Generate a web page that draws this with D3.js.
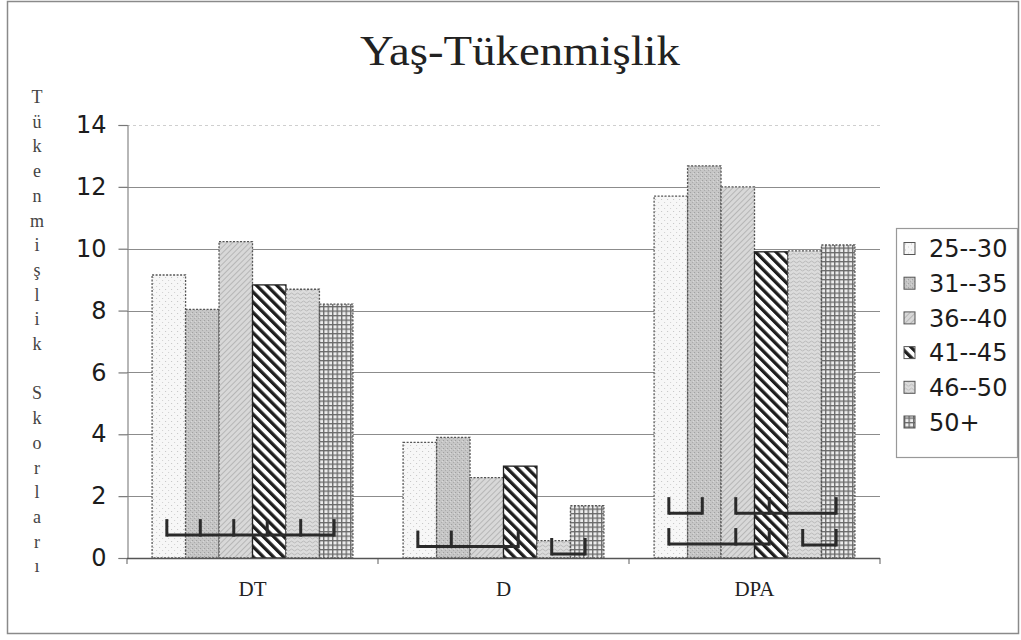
<!DOCTYPE html>
<html>
<head>
<meta charset="utf-8">
<script src="https://cdn.jsdelivr.net/npm/d3@7"></script>
<style>
  body { margin: 0; background: #fff; }
</style>
</head>
<body>
<script>
// values
var categories = ["DT", "D", "DPA"];
var ageGroups = ["25--30", "31--35", "36--40", "41--45", "46--50", "50+"];
var s25_30 = [9.15, 3.74, 11.70];
var s31_35 = [8.04, 3.90, 12.68];
var s36_40 = [10.23, 2.60, 12.00];
var s41_45 = [8.83, 2.97, 9.90];
var s46_50 = [8.69, 0.56, 9.93];
var s50p   = [8.21, 1.69, 10.12];
var yTicks = [0, 2, 4, 6, 8, 10, 12, 14];
// significance brackets: category, bar indexes, level (score units)
var bracketCats   = ["DT", "D", "D", "DPA", "DPA", "DPA", "DPA"];
var bracketBars   = [[0,1,2,3,4,5], [0,1,3], [4,5], [0,1], [2,3,5], [0,2,3], [4,5]];
var bracketLevels = [0.74, 0.37, 0.13, 1.45, 1.45, 0.45, 0.42];

var series = [s25_30, s31_35, s36_40, s41_45, s46_50, s50p];

var W = 1021, H = 640;
var svg = d3.select("body").append("svg")
	.attr("width", W)
	.attr("height", H);

svg.append("rect").attr("width", W).attr("height", H).attr("fill", "#fff");

// outer frame
svg.append("rect")
	.attr("x", 7.5).attr("y", 1.5)
	.attr("width", 1011).attr("height", 632)
	.attr("fill", "none")
	.attr("stroke", "#8a8a8a")
	.attr("stroke-width", 1.5);

// ---- patterns ----
var defs = svg.append("defs");

var p = defs.append("pattern").attr("id", "pat0").attr("patternUnits", "userSpaceOnUse")
	.attr("width", 6).attr("height", 6);
p.append("rect").attr("width", 6).attr("height", 6).attr("fill", "#f7f7f7");
p.append("rect").attr("x", 1).attr("y", 1).attr("width", 1).attr("height", 1).attr("fill", "#c4c4c4");
p.append("rect").attr("x", 4).attr("y", 4).attr("width", 1).attr("height", 1).attr("fill", "#d0d0d0");

p = defs.append("pattern").attr("id", "pat1").attr("patternUnits", "userSpaceOnUse")
	.attr("width", 4).attr("height", 4);
p.append("rect").attr("width", 4).attr("height", 4).attr("fill", "#c6c6c6");
p.append("rect").attr("x", 0).attr("y", 0).attr("width", 1).attr("height", 1).attr("fill", "#9c9c9c");
p.append("rect").attr("x", 2).attr("y", 2).attr("width", 1).attr("height", 1).attr("fill", "#a8a8a8");
p.append("rect").attr("x", 3).attr("y", 1).attr("width", 1).attr("height", 1).attr("fill", "#dadada");

p = defs.append("pattern").attr("id", "pat2").attr("patternUnits", "userSpaceOnUse")
	.attr("width", 4).attr("height", 4).attr("patternTransform", "rotate(45)");
p.append("rect").attr("width", 4).attr("height", 4).attr("fill", "#d8d8d8");
p.append("rect").attr("width", 1).attr("height", 4).attr("fill", "#b6b6b6");

p = defs.append("pattern").attr("id", "pat3").attr("patternUnits", "userSpaceOnUse")
	.attr("width", 7.2).attr("height", 7.2).attr("patternTransform", "rotate(-45)");
p.append("rect").attr("width", 7.2).attr("height", 7.2).attr("fill", "#fff");
p.append("rect").attr("width", 3.3).attr("height", 7.2).attr("fill", "#1e1e1e");

p = defs.append("pattern").attr("id", "pat4").attr("patternUnits", "userSpaceOnUse")
	.attr("width", 6).attr("height", 4);
p.append("rect").attr("width", 6).attr("height", 4).attr("fill", "#dcdcdc");
p.append("path").attr("d", "M0,2 Q1.5,0 3,2 T6,2").attr("fill", "none")
	.attr("stroke", "#b4b4b4").attr("stroke-width", 0.9);

p = defs.append("pattern").attr("id", "pat5").attr("patternUnits", "userSpaceOnUse")
	.attr("width", 4.5).attr("height", 4.5);
p.append("rect").attr("width", 4.5).attr("height", 4.5).attr("fill", "#ececec");
p.append("rect").attr("width", 1.3).attr("height", 4.5).attr("fill", "#6a6a6a");
p.append("rect").attr("width", 4.5).attr("height", 1.3).attr("fill", "#6a6a6a");

// ---- scales ----
var x0 = d3.scaleBand().domain(categories).range([127, 880])
	.paddingInner(0.2).paddingOuter(0.1);
var x1 = d3.scaleBand().domain(d3.range(ageGroups.length)).range([0, x0.bandwidth()]);
var y = d3.scaleLinear().domain([0, 14]).range([558, 125]);

// gridlines
svg.append("g").selectAll("line").data(yTicks).join("line")
	.attr("x1", 127).attr("x2", 880)
	.attr("y1", function(d){ return Math.round(y(d)) + 0.5; })
	.attr("y2", function(d){ return Math.round(y(d)) + 0.5; })
	.attr("stroke", function(d){ return d === 14 ? "#cfcfcf" : "#8c8c8c"; })
	.attr("stroke-dasharray", function(d){ return d === 14 ? "3,3" : null; })
	.attr("stroke-width", 1.2);

// y axis
var yAxis = svg.append("g")
	.attr("transform", "translate(127.5,0)")
	.call(d3.axisLeft(y).tickValues(yTicks).tickSize(9).tickPadding(12));
yAxis.select(".domain").attr("stroke", "#888").attr("stroke-width", 1.2);
yAxis.selectAll(".tick line").attr("stroke", "#777").attr("stroke-width", 1.2);
yAxis.selectAll("text")
	.attr("font-family", "DejaVu Sans")
	.attr("font-size", 24)
	.attr("fill", "#1c1c1c");

// x axis ticks on category borders
var xBorders = [0, 1, 2, 3].map(function(i){ return 127 + i * x0.step(); });
svg.append("g").selectAll("line").data(xBorders).join("line")
	.attr("x1", function(d){ return d; }).attr("x2", function(d){ return d; })
	.attr("y1", 558).attr("y2", 564)
	.attr("stroke", "#777").attr("stroke-width", 1.2);

// bars
var groups = svg.append("g").selectAll("g").data(categories).join("g")
	.attr("transform", function(d){ return "translate(" + x0(d) + ",0)"; });

groups.selectAll("rect")
	.data(function(c, ci){ return series.map(function(s, si){ return {si: si, v: s[ci]}; }); })
	.join("rect")
	.attr("x", function(d){ return x1(d.si); })
	.attr("y", function(d){ return y(d.v); })
	.attr("width", x1.bandwidth())
	.attr("height", function(d){ return y(0) - y(d.v); })
	.attr("fill", function(d){ return "url(#pat" + d.si + ")"; })
	.attr("stroke", function(d){ return d.si === 3 ? "#222" : "#555"; })
	.attr("stroke-width", 1.3)
	.attr("stroke-dasharray", function(d){ return d.si === 3 ? null : "2,1.5"; });

// zero line on top
svg.append("line")
	.attr("x1", 127).attr("x2", 880)
	.attr("y1", y(0) + 0.5).attr("y2", y(0) + 0.5)
	.attr("stroke", "#555").attr("stroke-width", 1.5);

// brackets
var bg = svg.append("g");
for (var b = 0; b < bracketCats.length; b++) {
	var cat = bracketCats[b];
	var idx = bracketBars[b];
	var yy = y(bracketLevels[b]);
	var xs = idx.map(function(i){ return x0(cat) + x1(i) + x1.bandwidth() / 2 - 2; });
	bg.append("line")
		.attr("x1", d3.min(xs)).attr("x2", d3.max(xs))
		.attr("y1", yy).attr("y2", yy)
		.attr("stroke", "#2a2a2a").attr("stroke-width", 3);
	bg.selectAll(null).data(xs).enter().append("line")
		.attr("x1", function(d){ return d; }).attr("x2", function(d){ return d; })
		.attr("y1", yy + 1.5).attr("y2", yy - 16)
		.attr("stroke", "#2a2a2a").attr("stroke-width", 3);
}

// category labels
svg.append("g").selectAll("text").data(categories).join("text")
	.attr("x", function(d){ return x0(d) + x0.bandwidth() / 2; })
	.attr("y", 596)
	.attr("text-anchor", "middle")
	.attr("font-family", "Liberation Serif")
	.attr("font-size", 21)
	.attr("fill", "#222")
	.text(function(d){ return d; });

// title
svg.append("text")
	.attr("x", 520).attr("y", 65)
	.attr("text-anchor", "middle")
	.attr("font-family", "Liberation Serif")
	.attr("font-size", 42)
	.attr("textLength", 320)
	.attr("lengthAdjust", "spacingAndGlyphs")
	.attr("fill", "#222")
	.text("Yaş-Tükenmişlik");

// y label, one letter per line
var yLabel = "Tükenmişlik Skorları".split("");
svg.append("g").selectAll("text").data(yLabel).join("text")
	.attr("x", 37)
	.attr("y", function(d, i){ return 103 + i * 24.7; })
	.attr("text-anchor", "middle")
	.attr("font-family", "Liberation Serif")
	.attr("font-size", 18)
	.attr("fill", "#444")
	.text(function(d){ return d; });

// legend
svg.append("rect")
	.attr("x", 896.5).attr("y", 228.5)
	.attr("width", 121).attr("height", 229)
	.attr("fill", "#fff")
	.attr("stroke", "#999").attr("stroke-width", 1.2);

var leg = svg.append("g").selectAll("g").data(ageGroups).join("g")
	.attr("transform", function(d, i){ return "translate(904," + (248.5 + i * 34.7) + ")"; });
leg.append("rect")
	.attr("x", 0).attr("y", -6)
	.attr("width", 11).attr("height", 12)
	.attr("fill", function(d, i){ return "url(#pat" + i + ")"; })
	.attr("stroke", "#555").attr("stroke-width", 1);
leg.append("text")
	.attr("x", 25).attr("y", 0)
	.attr("dy", "0.36em")
	.attr("font-family", "DejaVu Sans")
	.attr("font-size", 24)
	.attr("fill", "#1c1c1c")
	.text(function(d){ return d; });
</script>
</body>
</html>
